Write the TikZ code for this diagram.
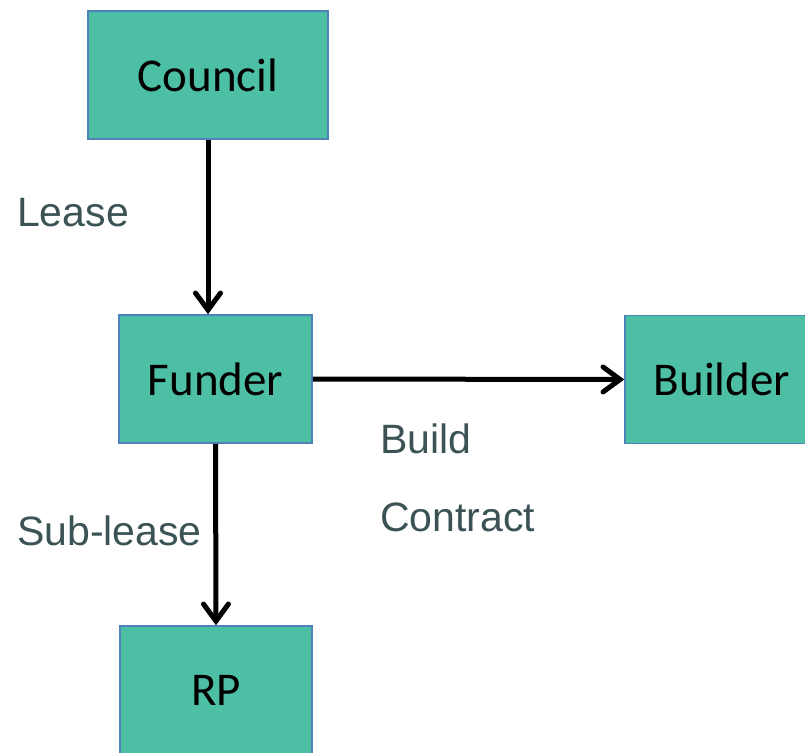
\documentclass[tikz,border=0pt]{standalone}
\usepackage{fontspec}
\setmainfont{Carlito}
\newfontfamily\lblfont{Liberation Sans}
\usetikzlibrary{arrows.meta}
\definecolor{boxfill}{RGB}{77,191,165}
\definecolor{boxline}{RGB}{79,129,189}
\definecolor{lbltext}{RGB}{59,83,84}
\tikzset{
  party/.style={draw=boxline,line width=1.5pt,fill=boxfill,minimum height=128pt,
    font=\fontsize{47}{52}\selectfont},
  link/.style={line width=5pt,-{Straight Barb[length=17pt,width=25pt,line cap=round]}},
  lbl/.style={anchor=west,text=lbltext,inner sep=0pt,font=\lblfont\fontsize{41}{48}\selectfont}
}

\begin{document}
\begin{tikzpicture}[x=1pt,y=-1pt]
\useasboundingbox (0,0) rectangle (805,752);
\clip (0,0) rectangle (805,752);

\node[party,minimum width=240pt] (council) at (208,75) {Council};
\node[party,minimum width=193pt] (funder) at (215.5,379) {Funder};
\node[party,minimum width=194pt] (builder) at (722,379.5) {Builder};
\node[party,minimum width=192pt] (rp) at (216,690) {RP};

\draw[link] (council.south) -- (council.south |- funder.north);
\draw[link] (funder.east) -- (builder.west);
\draw[link] (funder.south) -- (rp.north);

\node[lbl] (lease) at (17,213) {Lease};
\node[lbl] (sublease) at (17,531) {Sub-lease};
\node[lbl] (build) at (380,439) {Build};
\node[lbl] (contract) at (380,517) {Contract};
\end{tikzpicture}
\end{document}
